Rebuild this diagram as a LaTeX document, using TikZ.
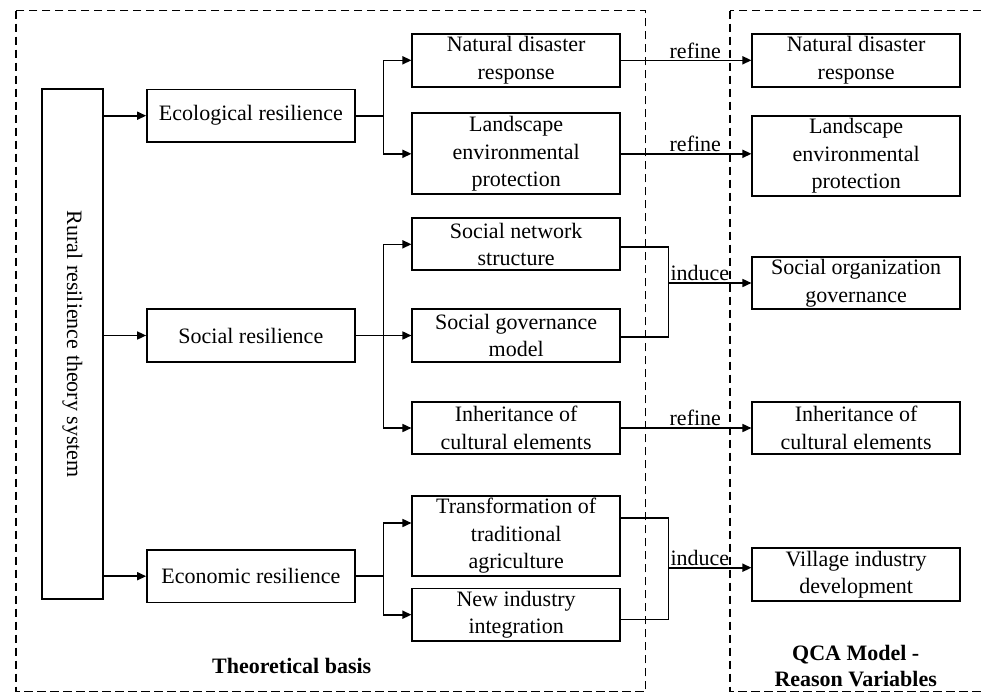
\documentclass[tikz,border=0pt]{standalone}
\usepackage{fontspec}
\setmainfont{Liberation Serif}
\usetikzlibrary{arrows.meta}
\begin{document}
\begin{tikzpicture}[x=1pt,y=-1pt,
  font=\fontsize{22}{27.5}\selectfont,
  box/.style={draw, line width=1.7pt, align=center, inner sep=0pt, minimum width=207.7pt},
  link/.style={line width=1.6pt},
  arr/.style={line width=1.6pt, -{Triangle[length=9pt,width=8pt]}},
  frame/.style={line width=1.4pt, dash pattern=on 8.5pt off 4.5pt},
  lbl/.style={inner sep=1pt}]
\clip (0,0) rectangle (981,693);
\fill[white] (0,0) rectangle (981,693);

% dashed frames
\draw[frame] (16,10.7) rectangle (645.7,691.7);
\draw[frame] (730,10.7) rectangle (1000,691.7);

% root
\node[draw, line width=1.7pt, minimum width=61.3pt, minimum height=510pt, inner sep=0pt] (rural) at (72.35,344.3) {};
\node[rotate=-90] (ruraltxt) at (rural.center) {Rural resilience theory system};

% first level
\node[box, minimum height=52.7pt] (eco) at (250.85,115.7) {Ecological resilience};
\node[box, minimum height=52.4pt] (soc) at (250.85,335.5) {Social resilience};
\node[box, minimum height=52.3pt] (econ) at (250.85,576.2) {Economic resilience};

% second level
\node[box, minimum height=52.7pt] (nat) at (516.15,60.3) {Natural disaster\\response};
\node[box, minimum height=81pt] (land) at (516.15,153.8) {Landscape\\environmental\\protection};
\node[box, minimum height=52pt] (socnet) at (516.15,244.3) {Social network\\structure};
\node[box, minimum height=52.4pt] (socgov) at (516.15,335.5) {Social governance\\model};
\node[box, minimum height=52.6pt] (inher) at (516.15,428) {Inheritance of\\cultural elements};
\node[box, minimum height=80.3pt] (trans) at (516.15,535.8) {Transformation of\\traditional\\agriculture};
\node[box, minimum height=52.7pt] (newind) at (516.15,614.7) {New industry\\integration};

% QCA variables
\node[box, minimum height=52.7pt] (qnat) at (856.15,60.3) {Natural disaster\\response};
\node[box, minimum height=79.7pt] (qland) at (856.15,155.85) {Landscape\\environmental\\protection};
\node[box, minimum height=52.6pt] (qsoc) at (856.15,283) {Social organization\\governance};
\node[box, minimum height=52.6pt] (qinh) at (856.15,428) {Inheritance of\\cultural elements};
\node[box, minimum height=52.4pt] (qvil) at (856.15,574.5) {Village industry\\development};

% root to first level
\draw[arr] (eco.west -| rural.east) -- (eco.west);
\draw[arr] (soc.west -| rural.east) -- (soc.west);
\draw[arr] (econ.west -| rural.east) -- (econ.west);

% branch points
\coordinate (b1) at (383.3,0);
\coordinate (m1) at (668.3,0);

% ecological branch
\draw[link] (eco.east) -- (eco.east -| b1);
\draw[arr] (nat.west -| b1) |- (land.west);
\draw[arr] (nat.west -| b1) -- (nat.west);

% social branch
\draw[link] (soc.east) -- (soc.east -| b1);
\draw[arr] (socnet.west -| b1) |- (inher.west);
\draw[arr] (socnet.west -| b1) -- (socnet.west);
\draw[arr] (socgov.west -| b1) -- (socgov.west);

% economic branch
\coordinate (tin) at ([yshift=12.8pt]trans.west);
\draw[link] (econ.east) -- (econ.east -| b1);
\draw[arr] (tin -| b1) |- (newind.west);
\draw[arr] (tin -| b1) -- (tin);

% refine links
\draw[arr] (nat.east) -- (nat.east -| qnat.west) node[lbl, pos=0.57, above] (r1) {refine};
\draw[arr] (land.east) -- (land.east -| qland.west) node[lbl, pos=0.57, above] (r2) {refine};
\draw[arr] (inher.east) -- (inher.east -| qinh.west) node[lbl, pos=0.57, above] (r3) {refine};

% induce links
\draw[link] ([yshift=-2.7pt]socnet.east) -- ([yshift=-2.7pt]socnet.east -| m1) -- ([yshift=-1.2pt]socgov.east -| m1) -- ([yshift=-1.2pt]socgov.east);
\draw[arr] (qsoc.west -| m1) -- (qsoc.west) node[lbl, pos=0, above right, inner sep=1.5pt] (i1) {induce};

\coordinate (tout) at ([yshift=18pt]trans.east);
\coordinate (nout) at ([yshift=-4.6pt]newind.east);
\coordinate (vin) at ([yshift=6.8pt]qvil.west);
\draw[link] (tout) -- (tout -| m1) -- (nout -| m1) -- (nout);
\draw[arr] (vin -| m1) -- (vin) node[lbl, pos=0, above right, inner sep=1.5pt] (i2) {induce};

% frame titles
\node[font=\fontsize{22}{26}\selectfont\bfseries] (tb) at (291.7,666) {Theoretical basis};
\node[font=\fontsize{22}{26}\selectfont\bfseries, align=center] (qca) at (855.7,666.3) {QCA Model -\\Reason Variables};
\end{tikzpicture}
\end{document}
